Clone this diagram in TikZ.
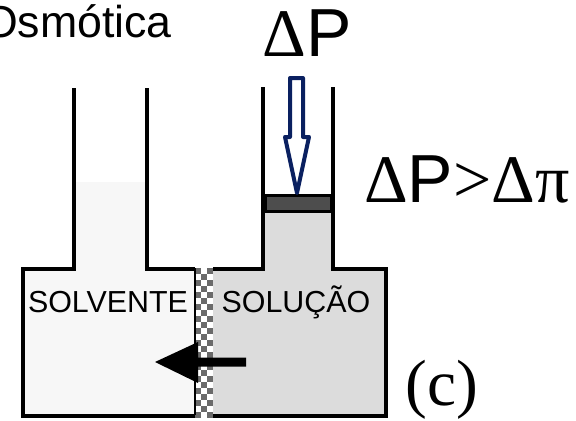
\documentclass[tikz,border=0pt]{standalone}
\usepackage{fontspec}
\setmainfont{Liberation Sans}
\newfontfamily\serifface{Liberation Serif}
\definecolor{navyline}{HTML}{0A2060}
\definecolor{solventefill}{HTML}{F7F7F7}
\definecolor{solucaofill}{HTML}{DCDCDC}
\definecolor{pistonfill}{HTML}{4D4D4D}
\definecolor{checkfill}{HTML}{6A6A6A}
\tikzset{
  wall/.style={draw=black,line width=3pt,line cap=butt},
  label/.style={inner sep=0pt,anchor=base,text=black},
}
\begin{document}
\begin{tikzpicture}[x=0.75pt,y=-0.75pt]
  \useasboundingbox (0,0) rectangle (576,421);
  % Liquid on both sides
  \fill[solventefill] (23,268) rectangle (195,415);
  \fill[solventefill] (74,182) rectangle (147,270);
  \fill[solucaofill] (213,268) rectangle (386,415);
  \fill[solucaofill] (263,213) rectangle (333,270);
  % Membrane
  \fill[white] (195,268) rectangle (213,418);
  \foreach \i in {0,...,24} {
    \foreach \j in {0,1,2} {
      \pgfmathtruncatemacro{\odd}{mod(\i+\j,2)}
      \ifnum\odd=0
        \fill[checkfill] ({195+6*\j},{268+6*\i}) rectangle ({201+6*\j},{274+6*\i});
      \fi
    }
  }
  % Vessel walls
  \draw[wall] (74,88) -- (74,268.5) -- (23,268.5) -- (23,415.5) -- (195,415.5);
  \draw[wall] (147,88) -- (147,268.5) -- (195,268.5);
  \draw[wall] (263,87) -- (263,268.5) -- (213,268.5);
  \draw[wall] (333,87) -- (333,268.5) -- (386,268.5) -- (386,415.5) -- (213,415.5);
  \draw[black,line width=1.5pt] (195,268) -- (195,415);
  % Piston
  \draw[black,fill=pistonfill,line width=2.25pt] (265,195) rectangle (331,211);
  % Pressure arrow
  \draw[navyline,fill=white,line width=3pt,line join=round]
    (290,78) -- (303,78) -- (303,137) -- (309,137) -- (297,193) -- (285,137) -- (290,137) -- cycle;
  % Flow arrow
  \fill[black] (246,357.5) -- (198,357.5) -- (198,342) -- (155,362) -- (198,383) -- (198,366.5) -- (246,366.5) -- cycle;
  % Texts
  \node[label,anchor=base east,font=\fontsize{33.5}{33.5}\selectfont] (osmotica) at (172,37) {Osmótica};
  \node[label,font=\fontsize{51}{51}\selectfont] (deltap) at (307,56) {{\serifface Δ}P};
  \node[label,anchor=base west,font=\fontsize{51}{51}\selectfont] (cond) at (364,202) {{\serifface Δ}P{\serifface >Δπ}};
  \node[label,font=\fontsize{22.8}{22.8}\selectfont] (solvente) at (108,312) {SOLVENTE};
  \node[label,font=\fontsize{22.8}{22.8}\selectfont] (solucao) at (296,312) {SOLUÇÃO};
  \node[label,font=\serifface\fontsize{49}{49}\selectfont] (c) at (441.5,405) {(c)};
\end{tikzpicture}
\end{document}
